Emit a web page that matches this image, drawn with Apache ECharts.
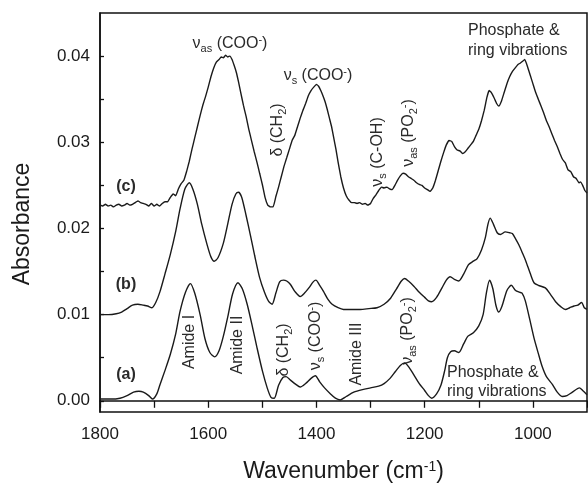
<!DOCTYPE html>
<html>
<head>
<meta charset="utf-8">
<script src="https://cdn.jsdelivr.net/npm/echarts@6/dist/echarts.min.js"></script>
<style>
	html, body { margin: 0; padding: 0; background: #fff; }
	#main { width: 588px; height: 488px; }
</style>
</head>
<body>
<div id="main"></div>
<script>
// 光谱 (a)
var aWn = [1800,1780,1763,1750,1738,1728,1720,1710,1703,1695,1689,1680,1670,1660,1652,1642,1633,1625,1615,1606,1597,1588,1580,1572,1563,1555,1545,1537,1528,1518,1510,1500,1491,1484,1478,1470,1462,1456,1448,1438,1430,1420,1410,1402,1394,1385,1374,1365,1356,1345,1331,1315,1300,1285,1275,1264,1254,1245,1237,1228,1220,1210,1200,1193,1187,1178,1170,1163,1158,1152,1145,1137,1128,1120,1110,1100,1092,1086,1080,1074,1068,1063,1057,1048,1040,1032,1025,1020,1014,1006,998,990,983,975,964,955,946,937,927,914,908,900];
var aAbs = [0.0002,0.0002,0.0003,0.0006,0.0010,0.0011,0.0010,0.0006,0.0002,0.0008,0.0019,0.0035,0.0054,0.0078,0.0104,0.0126,0.0136,0.0125,0.0100,0.0072,0.0056,0.0051,0.0058,0.0075,0.0100,0.0124,0.0137,0.0130,0.0112,0.0085,0.0062,0.0035,0.0015,0.0004,0.0003,0.0018,0.0027,0.0028,0.0024,0.0019,0.0016,0.0020,0.0026,0.0029,0.0022,0.0015,0.0008,0.0003,0.0001,0.0005,0.0010,0.0013,0.0015,0.0017,0.0020,0.0026,0.0034,0.0041,0.0044,0.0038,0.0030,0.0020,0.0012,0.0006,0.0003,0.0008,0.0018,0.0035,0.0050,0.0057,0.0058,0.0056,0.0066,0.0075,0.0079,0.0087,0.0100,0.0125,0.0140,0.0130,0.0110,0.0103,0.0110,0.0128,0.0134,0.0128,0.0126,0.0125,0.0116,0.0095,0.0073,0.0055,0.0040,0.0028,0.0019,0.0010,0.0005,0.0006,0.0010,0.0015,0.0012,0.0007];

// 光谱 (b)
var bWn = [1800,1785,1770,1760,1750,1740,1730,1720,1712,1704,1697,1689,1680,1670,1660,1652,1643,1635,1628,1620,1612,1602,1595,1589,1582,1572,1564,1556,1549,1544,1538,1530,1522,1514,1505,1496,1488,1482,1475,1468,1461,1455,1448,1440,1430,1422,1414,1406,1401,1394,1387,1379,1371,1360,1350,1335,1319,1303,1288,1275,1263,1252,1243,1237,1230,1220,1210,1200,1193,1187,1178,1168,1160,1153,1145,1137,1128,1119,1110,1103,1095,1088,1083,1079,1073,1066,1060,1051,1043,1038,1032,1026,1019,1013,1005,998,990,977,967,958,948,940,932,924,917,910,905,900];
var bAbs = [0.0100,0.0100,0.0101,0.0103,0.0107,0.0111,0.0112,0.0111,0.0110,0.0108,0.0114,0.0127,0.0147,0.0170,0.0197,0.0223,0.0246,0.0253,0.0245,0.0228,0.0205,0.0181,0.0167,0.0162,0.0166,0.0183,0.0205,0.0228,0.0240,0.0242,0.0236,0.0215,0.0192,0.0168,0.0143,0.0126,0.0115,0.0112,0.0125,0.0138,0.0140,0.0139,0.0135,0.0127,0.0121,0.0125,0.0131,0.0138,0.0140,0.0134,0.0127,0.0118,0.0112,0.0108,0.0106,0.0106,0.0106,0.0107,0.0108,0.0112,0.0119,0.0130,0.0139,0.0142,0.0139,0.0133,0.0126,0.0120,0.0116,0.0115,0.0120,0.0131,0.0140,0.0144,0.0141,0.0139,0.0147,0.0158,0.0162,0.0165,0.0175,0.0189,0.0205,0.0212,0.0205,0.0195,0.0193,0.0196,0.0195,0.0194,0.0188,0.0181,0.0171,0.0162,0.0148,0.0137,0.0134,0.0131,0.0123,0.0115,0.0109,0.0106,0.0108,0.0110,0.0111,0.0114,0.0108,0.0106];

// 光谱 (c)
var cWn = [1800,1795,1790,1785,1780,1775,1770,1765,1760,1755,1750,1745,1740,1735,1730,1725,1720,1715,1710,1705,1700,1695,1690,1685,1680,1675,1670,1665,1660,1655,1650,1645,1640,1635,1630,1625,1620,1615,1610,1605,1600,1595,1590,1585,1580,1576,1572,1568,1564,1560,1556,1552,1548,1544,1540,1535,1530,1525,1520,1515,1510,1505,1500,1495,1490,1485,1480,1475,1470,1465,1460,1455,1450,1445,1440,1435,1430,1425,1420,1415,1410,1405,1400,1396,1392,1388,1384,1380,1376,1372,1368,1364,1360,1355,1350,1345,1340,1335,1330,1325,1320,1315,1310,1305,1300,1295,1290,1285,1280,1275,1270,1265,1260,1255,1250,1245,1240,1235,1230,1225,1220,1215,1210,1205,1200,1195,1190,1185,1180,1175,1170,1165,1160,1155,1150,1145,1140,1135,1130,1125,1120,1115,1110,1105,1100,1095,1090,1085,1081,1077,1072,1067,1063,1058,1053,1048,1043,1038,1033,1028,1023,1019,1015,1010,1005,1000,995,990,985,980,975,970,965,960,955,950,945,940,935,930,925,920,915,912,908,904,900];
var cAbs = [0.0227,0.0226,0.0228,0.0226,0.0227,0.0225,0.0227,0.0228,0.0226,0.0227,0.0229,0.0227,0.0228,0.0230,0.0232,0.0230,0.0229,0.0228,0.0226,0.0229,0.0226,0.0228,0.0226,0.0229,0.0231,0.0231,0.0236,0.0240,0.0238,0.0246,0.0252,0.0256,0.0266,0.0278,0.0292,0.0305,0.0318,0.0331,0.0343,0.0353,0.0364,0.0376,0.0386,0.0393,0.0396,0.0399,0.0398,0.0401,0.0399,0.0400,0.0396,0.0389,0.0381,0.0370,0.0358,0.0343,0.0330,0.0315,0.0302,0.0289,0.0277,0.0264,0.0251,0.0236,0.0227,0.0225,0.0225,0.0237,0.0248,0.0260,0.0272,0.0282,0.0292,0.0302,0.0308,0.0318,0.0328,0.0337,0.0345,0.0354,0.0360,0.0364,0.0367,0.0365,0.0360,0.0354,0.0347,0.0338,0.0328,0.0318,0.0305,0.0292,0.0277,0.0260,0.0247,0.0238,0.0233,0.0230,0.0230,0.0229,0.0230,0.0228,0.0229,0.0227,0.0229,0.0235,0.0239,0.0244,0.0248,0.0247,0.0248,0.0246,0.0245,0.0250,0.0256,0.0261,0.0264,0.0263,0.0260,0.0258,0.0256,0.0253,0.0251,0.0250,0.0247,0.0245,0.0243,0.0247,0.0256,0.0267,0.0278,0.0288,0.0297,0.0302,0.0301,0.0295,0.0291,0.0290,0.0287,0.0289,0.0293,0.0297,0.0301,0.0308,0.0315,0.0325,0.0337,0.0352,0.0360,0.0358,0.0352,0.0345,0.0342,0.0348,0.0358,0.0368,0.0376,0.0382,0.0386,0.0390,0.0392,0.0394,0.0396,0.0388,0.0378,0.0368,0.0358,0.0350,0.0342,0.0334,0.0325,0.0318,0.0310,0.0302,0.0295,0.0287,0.0280,0.0276,0.0268,0.0266,0.0260,0.0258,0.0253,0.0254,0.0250,0.0244,0.0241,0.0236];

// 刻度
var xLabelValues = [1000, 1200, 1400, 1600, 1800];
var yLabelValues = [0, 0.01, 0.02, 0.03, 0.04];
var yTickValues = [0, 0.005, 0.01, 0.015, 0.02, 0.025, 0.03, 0.035, 0.04];

(function(){

	var FONT = '"Liberation Sans", Arial, sans-serif';
	var INK = '#1a1a1a';
	var RICH = {
		sub: { fontSize: 11, verticalAlign: 'bottom', fontFamily: FONT, fill: '#2a2a2a' },
		sup: { fontSize: 11, verticalAlign: 'top', fontFamily: FONT, fill: '#2a2a2a' }
	};

	function pairs(xs, ys){
		return xs.map(function(w, i){ return [w, ys[i]]; });
	}

	// 标注文字
	function lab(x, y, text, rotate, opt){
		opt = opt || {};
		return {
			type: 'text',
			x: x, y: y,
			rotation: rotate ? Math.PI / 2 : 0,
			style: {
				text: text,
				rich: RICH,
				fontSize: opt.size || 16,
				fontWeight: opt.bold ? 'bold' : 'normal',
				fontFamily: FONT,
				fill: opt.color || '#2a2a2a',
				align: opt.align || 'center',
				verticalAlign: 'middle',
				lineHeight: opt.lh || 20
			}
		};
	}

	var myChart = echarts.init(document.getElementById('main'));

	var lineStyle = { color: INK, width: 1.4 };

	var option = {
		animation: false,
		backgroundColor: '#fff',
		grid: {
			left: 100, right: 1, top: 13, bottom: 74,
			show: true, borderColor: '#111', borderWidth: 1.5
		},
		xAxis: {
			type: 'value',
			inverse: true,
			min: 900, max: 1800, interval: 100,
			name: 'Wavenumber (cm{sup|-1})',
			nameLocation: 'middle',
			nameGap: 48,
			nameTextStyle: {
				fontSize: 23, fontFamily: FONT, color: '#1a1a1a',
				rich: { sup: { fontSize: 14, verticalAlign: 'top', fontFamily: FONT, color: '#1a1a1a' } }
			},
			axisLine: { lineStyle: { color: '#111', width: 1.5 } },
			axisTick: { inside: false, length: 7, lineStyle: { color: '#111', width: 1.3 } },
			axisLabel: {
				fontSize: 17, fontFamily: FONT, color: '#1a1a1a', margin: 14,
				customValues: xLabelValues,
				formatter: function(v){ return String(v); }
			},
			splitLine: { show: false }
		},
		yAxis: {
			type: 'value',
			min: -0.0013, max: 0.045,
			axisLine: { lineStyle: { color: '#111', width: 1.5 } },
			axisTick: { inside: true, length: 4, lineStyle: { color: '#111', width: 1.3 }, customValues: yTickValues },
			axisLabel: {
				fontSize: 17, fontFamily: FONT, color: '#1a1a1a', margin: 10,
				customValues: yLabelValues,
				formatter: function(v){ return v.toFixed(2); }
			},
			splitLine: { show: false }
		},
		series: [
			{ name: '(a)', type: 'line', data: pairs(aWn, aAbs), smooth: 0.25, showSymbol: false, lineStyle: lineStyle },
			{ name: '(b)', type: 'line', data: pairs(bWn, bAbs), smooth: 0.25, showSymbol: false, lineStyle: lineStyle },
			{ name: '(c)', type: 'line', data: pairs(cWn, cAbs), smooth: 0.1, showSymbol: false, lineStyle: lineStyle }
		],
		graphic: [
			// Y轴标题
			lab(23, 224, 'Absorbance', true, { size: 23, color: '#1a1a1a', lh: 26 }),
			lab(126, 187, '(c)', false, { bold: true }),
			lab(126, 285, '(b)', false, { bold: true }),
			lab(126, 375, '(a)', false, { bold: true }),
			// 上方 (c) 标注
			lab(230, 44, 'ν{sub|as} (COO{sup|-})'),
			lab(318, 76, 'ν{sub|s} (COO{sup|-})'),
			lab(278, 130, 'δ (CH{sub|2})', true),
			lab(378, 152, 'ν{sub|s} (C-OH)', true),
			lab(409, 133, 'ν{sub|as} (PO{sub|2}{sup|-})', true),
			lab(468, 41, 'Phosphate &\nring vibrations', false, { align: 'left' }),
			// 下方 (a) 标注
			lab(190, 342, 'Amide I', true),
			lab(238, 345, 'Amide II', true),
			lab(284, 350, 'δ (CH{sub|2})', true),
			lab(316, 336, 'ν{sub|s} (COO{sup|-})', true),
			lab(357, 354, 'Amide III', true),
			lab(408, 331, 'ν{sub|as} (PO{sub|2}{sup|-})', true),
			lab(447, 382, 'Phosphate &\nring vibrations', false, { align: 'left', lh: 19 })
		]
	};

	myChart.setOption(option);

})();
</script>
</body>
</html>
